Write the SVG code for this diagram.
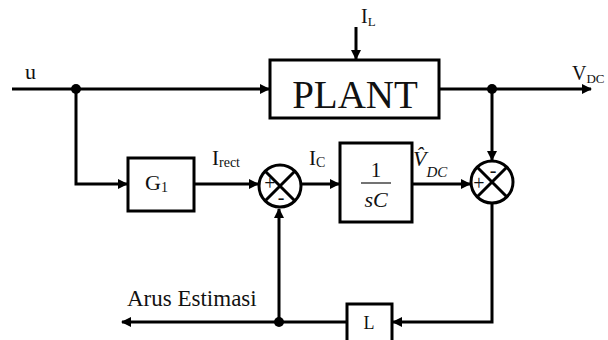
<svg xmlns="http://www.w3.org/2000/svg" width="608" height="340" viewBox="0 0 608 340">
<defs>
<marker id="ah" markerWidth="10" markerHeight="10" refX="9" refY="5" orient="auto" markerUnits="userSpaceOnUse">
<path d="M0,0 L10,5 L0,10 Z" fill="#000"/>
</marker>
<style>
.ln{fill:none;stroke:#000;stroke-width:3}
.bx{fill:#fff;stroke:#000;stroke-width:3}
.t{font-family:"Liberation Serif","Times New Roman",serif;fill:#111}
.it{font-style:italic}
</style>
</defs>
<rect width="608" height="340" fill="#fff"/>
<g id="connectors">
<path class="ln" d="M12,89 H269" marker-end="url(#ah)"/>
<path class="ln" d="M356,27 V59" marker-end="url(#ah)"/>
<path class="ln" d="M439,89 H591" marker-end="url(#ah)"/>
<path class="ln" d="M492,89 V160" marker-end="url(#ah)"/>
<path class="ln" d="M76,89 V184 H127" marker-end="url(#ah)"/>
<path class="ln" d="M194,184 H258" marker-end="url(#ah)"/>
<path class="ln" d="M301,184 H339" marker-end="url(#ah)"/>
<path class="ln" d="M412,184 H470" marker-end="url(#ah)"/>
<path class="ln" d="M492,203 V322 H393" marker-end="url(#ah)"/>
<path class="ln" d="M347,322 H122" marker-end="url(#ah)"/>
<path class="ln" d="M279,322 V209" marker-end="url(#ah)"/>
<circle cx="76" cy="89" r="5" fill="#000"/>
<circle cx="492" cy="89" r="5" fill="#000"/>
<circle cx="279" cy="322" r="5" fill="#000"/>
<text class="t" x="25" y="79" font-size="22">u</text>
<text class="t" x="361" y="23" font-size="20">I<tspan font-size="13" dy="3">L</tspan></text>
<text class="t" x="572" y="80" font-size="20">V<tspan font-size="13" dy="3">DC</tspan></text>
<text class="t" x="212" y="165" font-size="21">I<tspan font-size="14" dy="2">rect</tspan></text>
<text class="t" x="309" y="165" font-size="21">I<tspan font-size="14" dy="2">C</tspan></text>
<text class="t it" x="413" y="166" font-size="22">V&#x302;<tspan font-size="15" dy="11">DC</tspan></text>
<text class="t" x="127" y="306" font-size="23">Arus Estimasi</text>
</g>
<g id="plant">
<rect class="bx" x="270" y="60" width="169" height="58"/>
<text class="t" x="355" y="108" font-size="39" text-anchor="middle">PLANT</text>
</g>
<g id="g1">
<rect class="bx" x="128" y="158" width="66" height="53"/>
<text class="t" x="145" y="190" font-size="22">G<tspan font-size="14" dy="2">1</tspan></text>
</g>
<g id="sum1">
<circle class="bx" cx="280" cy="186" r="21"/>
<path class="ln" d="M265,171 L295,201 M295,171 L265,201" stroke-width="2.5"/>
<text class="t" x="270" y="190" font-size="20" text-anchor="middle">+</text>
<text class="t" x="281" y="204" font-size="20" text-anchor="middle">-</text>
</g>
<g id="integrator">
<rect class="bx" x="340" y="143" width="72" height="79"/>
<text class="t" x="376" y="177" font-size="21" text-anchor="middle">1</text>
<line x1="361" y1="183" x2="391" y2="183" stroke="#444" stroke-width="1.5"/>
<text class="t it" x="376" y="207" font-size="22" text-anchor="middle">sC</text>
</g>
<g id="sum2">
<circle class="bx" cx="492" cy="182" r="21"/>
<path class="ln" d="M477,167 L507,197 M507,167 L477,197" stroke-width="2.5"/>
<text class="t" x="479" y="190" font-size="20" text-anchor="middle">+</text>
<text class="t" x="493" y="177" font-size="20" text-anchor="middle">-</text>
</g>
<g id="l">
<rect class="bx" x="347" y="304" width="45" height="38"/>
<text class="t" x="369" y="329" font-size="18" text-anchor="middle">L</text>
</g>
</svg>
